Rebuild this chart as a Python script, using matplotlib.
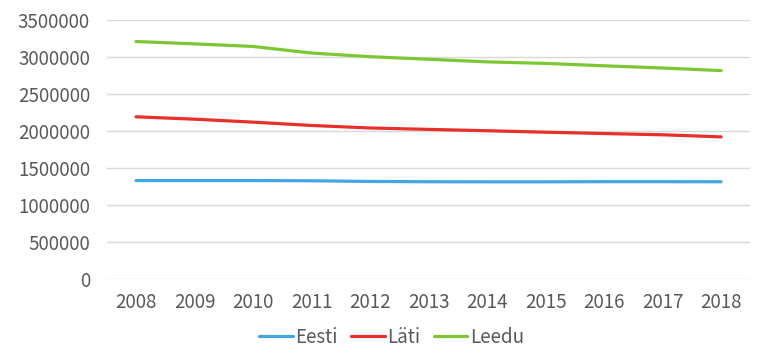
"""
Population of the Baltic states 2008-2018
"""

import matplotlib.pyplot as plt

#---------------------------------------------------------------------------------------------------
# Data
#---------------------------------------------------------------------------------------------------

years = ['2008', '2009', '2010', '2011', '2012', '2013', '2014', '2015', '2016', '2017', '2018']
eesti = [1330000, 1330000, 1330000, 1327000, 1318000, 1314000, 1313000, 1313000, 1315000, 1315000,
         1314000]
lati = [2191000, 2159000, 2119000, 2074000, 2040000, 2021000, 2003000, 1983000, 1965000, 1948000,
        1920000]
leedu = [3208000, 3176000, 3141000, 3052000, 3003000, 2968000, 2933000, 2912000, 2880000, 2850000,
         2815000]
yticks = [0, 500000, 1000000, 1500000, 2000000, 2500000, 3000000, 3500000]

#---------------------------------------------------------------------------------------------------
# Plot
#---------------------------------------------------------------------------------------------------

plt.rcParams['font.family'] = ['Noto Sans CJK SC', 'DejaVu Sans']
txt_col = '#595959'
fs = 13.5

fig = plt.figure(figsize=(7.68, 3.55), dpi=100)
ax = fig.add_axes([0.139, 0.214, 0.838, 0.730])

x = range(len(years))
ax.plot(x, eesti, color='#41A5E6', lw=2.3, label='Eesti', solid_capstyle='round')
ax.plot(x, lati, color='#E8302A', lw=2.3, label='Läti', solid_capstyle='round')
ax.plot(x, leedu, color='#7DC832', lw=2.3, label='Leedu', solid_capstyle='round')

ax.set_xlim(-0.5, len(years) - 0.5)
ax.set_ylim(0, 3500000)
ax.set_xticks(list(x))
ax.set_xticklabels(years)
ax.set_yticks(yticks)
ax.set_yticklabels([str(v) for v in yticks])
ax.tick_params(axis='both', length=0, labelsize=fs, colors=txt_col)
ax.tick_params(axis='x', pad=9)
ax.tick_params(axis='y', pad=12)
ax.grid(axis='y', color='#D9D9D9', lw=1)
ax.set_axisbelow(True)
for s in ax.spines.values():
    s.set_visible(False)

leg = fig.legend(loc='center', bbox_to_anchor=(0.51, 0.05), ncol=3, frameon=False,
                 fontsize=fs, handlelength=1.8, columnspacing=0.7, handletextpad=0.15)
for t in leg.get_texts():
    t.set_color(txt_col)

plt.savefig('out.png', dpi=100)
